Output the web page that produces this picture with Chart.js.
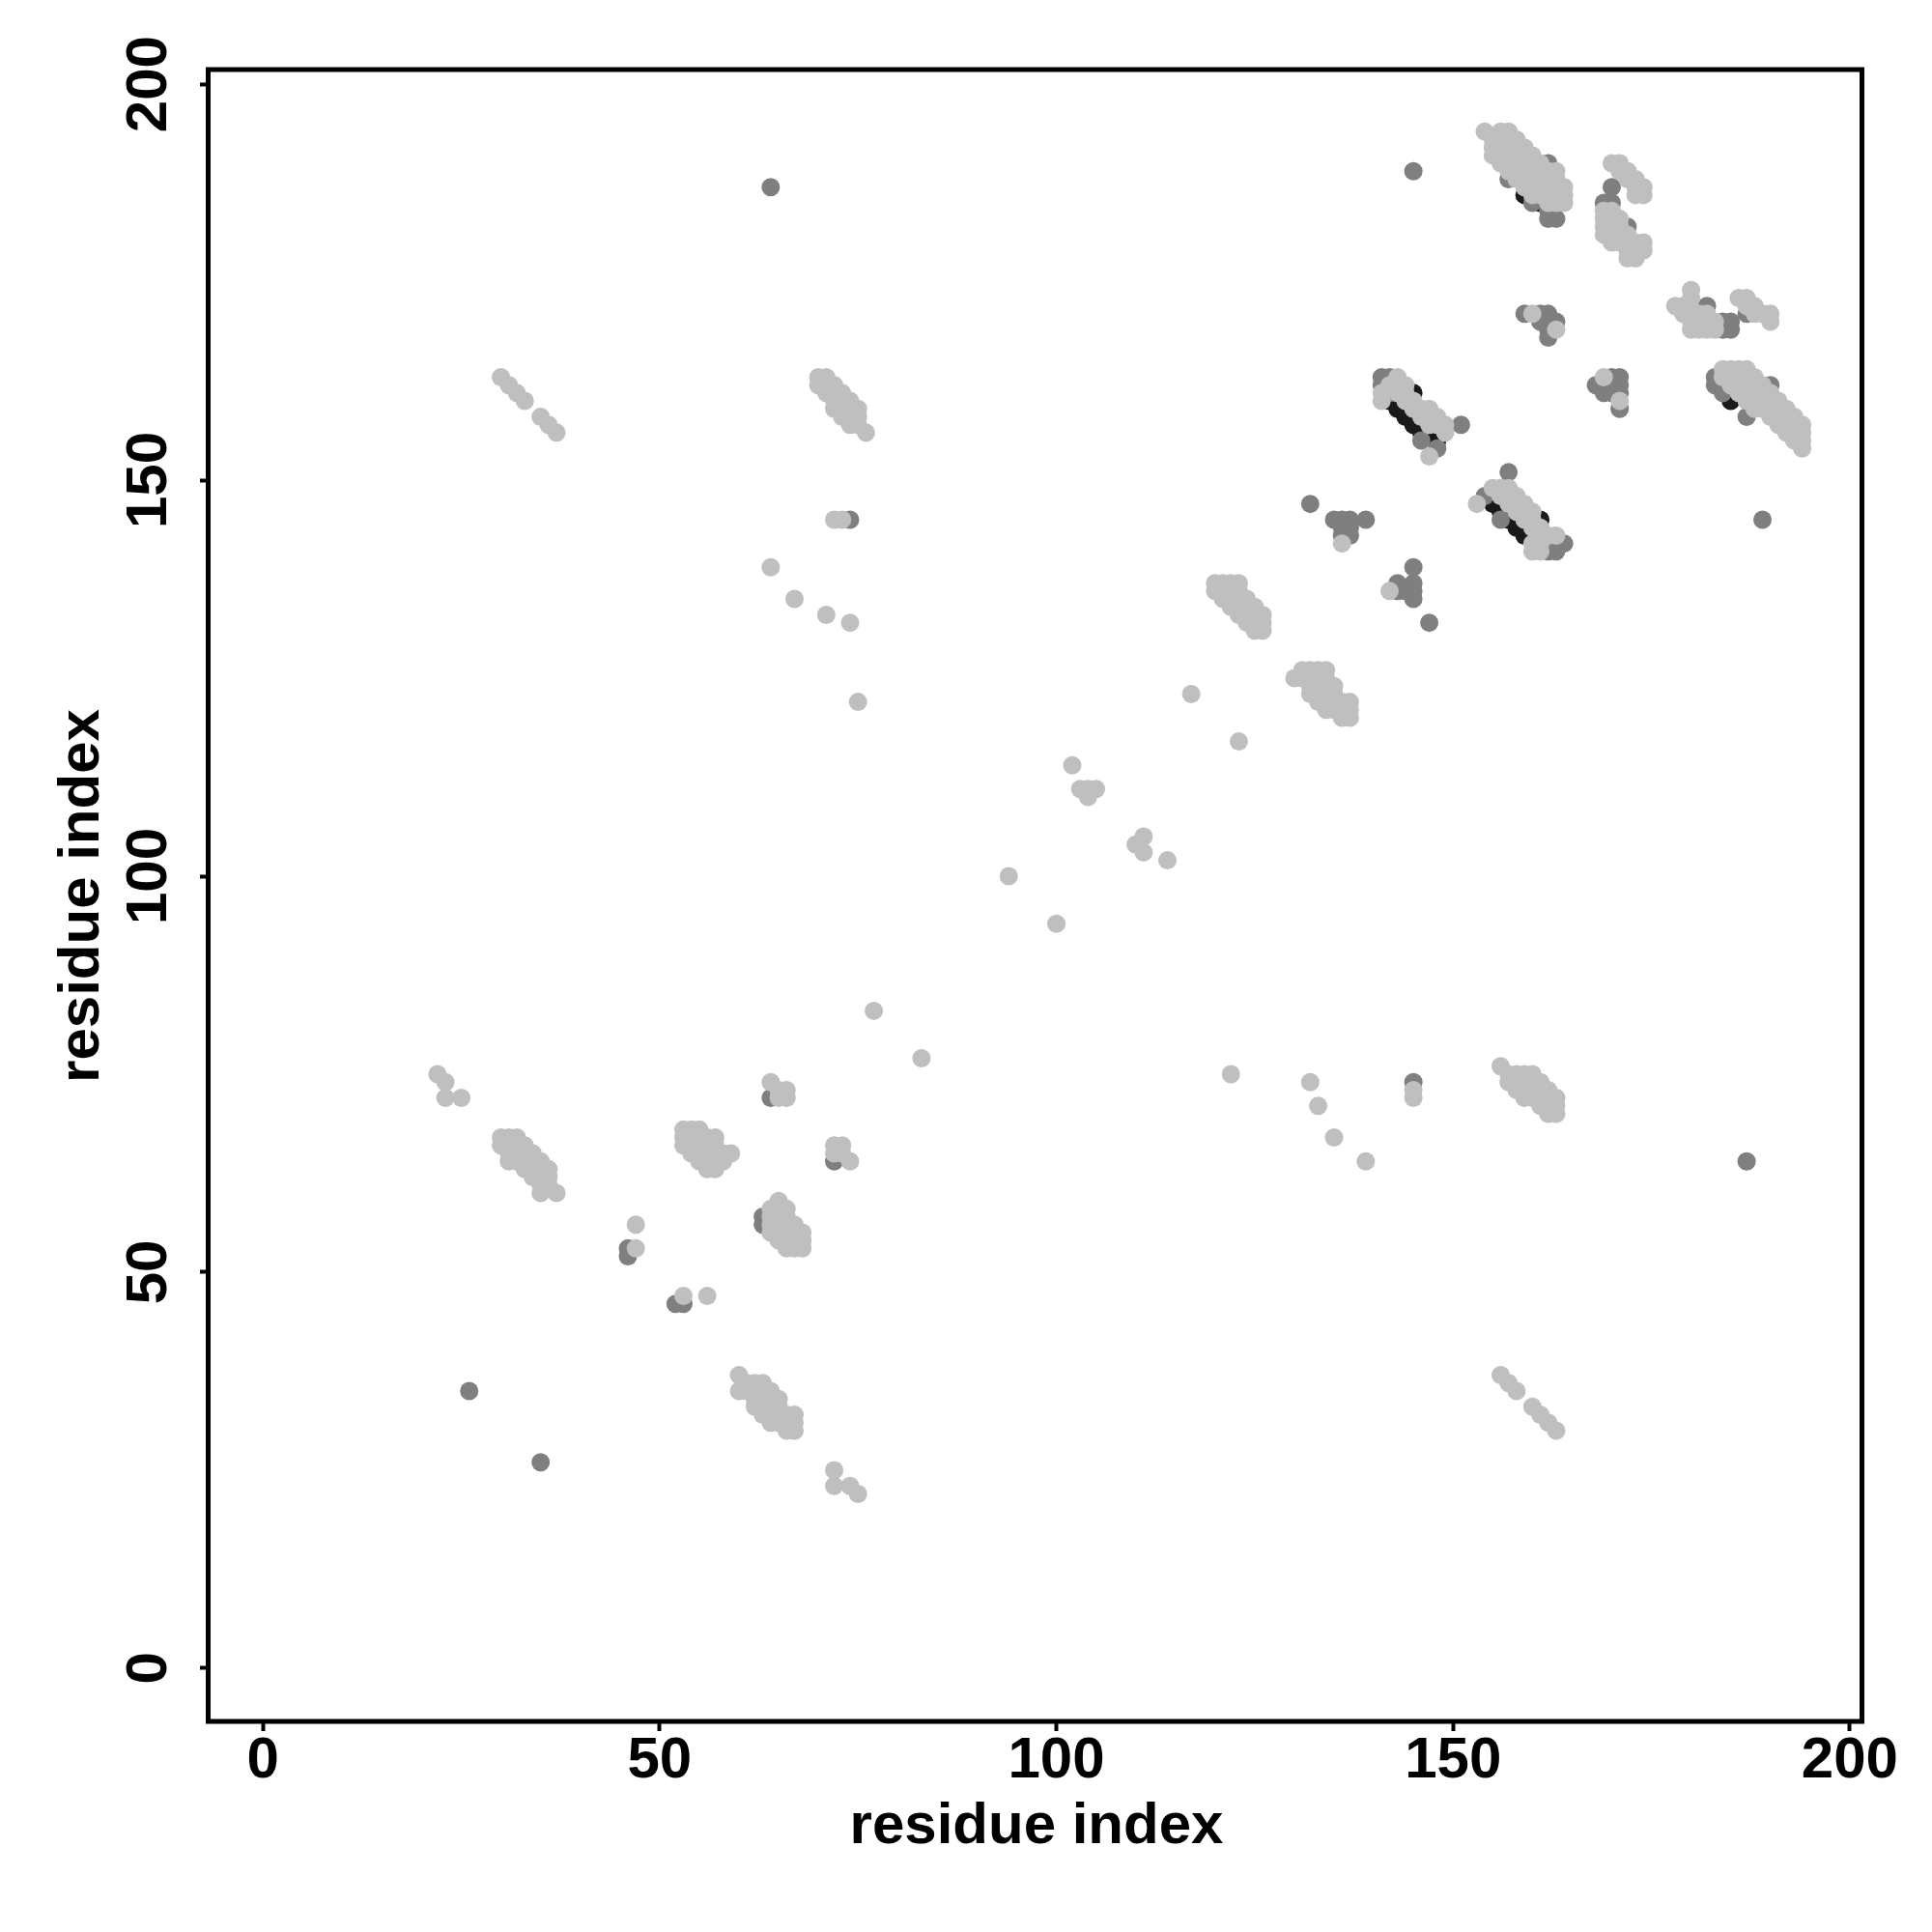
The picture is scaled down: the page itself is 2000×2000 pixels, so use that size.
<!DOCTYPE html>
<html><head><meta charset="utf-8">
<script src="https://cdn.jsdelivr.net/npm/chart.js@4"></script>
<style>html,body{margin:0;padding:0;background:#fff}#wrap{width:2000px;height:2000px}</style>
</head><body><div id="wrap"><canvas id="c" width="2000" height="2000"></canvas></div>
<script>
const tickValues = [0, 50, 100, 150, 200];
const xTitle = 'residue index';
const yTitle = 'residue index';

const lightPoints = [
[154,194],[156,194],[157,194],[155,193],[156,193],[157,193],[158,193],[155,192],[156,192],[157,192],[158,192],[159,192],[155,191],[156,191],[157,191],[158,191],[159,191],[160,191],[156,190],[157,190],[158,190],[159,190],[160,190],[161,190],[157,189],[158,189],[159,189],[160,189],[161,189],[162,189],[163,189],[158,188],[159,188],[160,188],[161,188],[162,188],[163,188],[159,187],[160,187],[161,187],[162,187],[163,187],[164,187],[160,186],[161,186],[162,186],[163,186],[164,186],[162,185],[163,185],[164,185],
[170,190],[171,190],[171,189],[172,189],[172,188],[173,188],[173,187],[174,187],[174,186],[173,186],[169,184],[169,183],[169,182],[169,181],[170,184],[170,183],[170,182],[170,181],[170,180],[171,183],[171,182],[171,181],[171,180],[172,181],[172,180],[172,179],[173,180],[173,179],[173,178],[174,180],[174,179],[172,178],
[160,171],[163,169],
[178,172],[179,172],[180,173],[180,174],[179,171],[180,171],[181,171],[180,170],[181,170],[182,170],[182,171],[183,170],[180,169],[181,169],[182,169],[183,169],[186,173],[187,173],[188,172],[187,172],[188,171],[189,171],[190,171],[190,170],
[169,163],[171,160],
[184,164],[185,164],[186,164],[187,164],[184,163],[185,163],[186,163],[187,163],[188,163],[185,162],[186,162],[187,162],[188,162],[189,162],[186,161],[187,161],[188,161],[189,161],[190,161],[187,160],[188,160],[189,160],[190,160],[191,160],[188,159],[189,159],[190,159],[191,159],[192,159],[190,158],[191,158],[192,158],[193,158],[191,157],[192,157],[193,157],[194,157],[192,156],[193,156],[194,156],[193,155],[194,155],[194,154],
[143,163],[141,161],[141,160],[142,162],[143,162],[143,161],[144,161],[144,160],[145,160],[145,159],[146,159],[147,159],[146,158],[147,158],[148,158],[147,157],[148,157],[149,157],[149,156],[147,153],[144,162],
[153,147],[155,149],[156,149],[157,149],[156,148],[157,148],[158,148],[157,147],[158,147],[159,147],[158,146],[159,146],[160,146],[159,145],[160,145],[160,144],[161,144],[161,143],[162,143],[163,143],[160,142],[161,142],[160,141],[161,141],
[136,142],[142,136],
[70,163],[71,163],[70,162],[71,162],[72,162],[71,161],[72,161],[73,161],[72,160],[73,160],[74,160],[72,159],[73,159],[74,159],[75,159],[73,158],[74,158],[75,158],[74,157],[75,157],[76,156],
[72,145],[73,145],[64,139],[67,135],[71,133],[74,132],[75,122],
[30,163],[31,162],[32,161],[33,160],[35,158],[36,157],[37,156],
[120,137],[121,137],[122,137],[123,137],[120,136],[121,136],[122,136],[123,136],[121,135],[122,135],[123,135],[124,135],[122,134],[123,134],[124,134],[125,134],[123,133],[124,133],[125,133],[126,133],[124,132],[125,132],[126,132],[125,131],[126,131],
[130,125],[131,126],[132,126],[133,126],[134,126],[131,125],[132,125],[133,125],[134,125],[132,124],[133,124],[134,124],[135,124],[132,123],[133,123],[134,123],[135,123],[133,122],[134,122],[135,122],[136,122],[137,122],[134,121],[135,121],[136,121],[137,121],[136,120],[137,120],
[117,123],[123,117],[102,114],[103,111],[104,111],[105,111],[104,110],[111,105],[110,104],[111,103],[114,102],[94,100],[100,94],[77,83],[83,77],
[122,75],[132,74],[133,71],[135,67],[139,64],[145,72],[145,73],
[156,76],[157,75],[158,75],[159,75],[160,75],[157,74],[158,74],[159,74],[160,74],[161,74],[158,73],[159,73],[160,73],[161,73],[162,73],[159,72],[160,72],[161,72],[162,72],[163,72],[161,71],[162,71],[163,71],[162,70],[163,70],
[156,37],[157,36],[158,35],[160,33],[161,32],[162,31],[163,30],
[22,75],[23,74],[23,72],[25,72],
[30,67],[31,67],[32,67],[30,66],[31,66],[32,66],[33,66],[31,65],[32,65],[33,65],[34,65],[31,64],[32,64],[33,64],[34,64],[35,64],[33,63],[34,63],[35,63],[36,63],[34,62],[35,62],[36,62],[35,61],[36,61],[35,60],[37,60],
[64,74],[65,73],[66,73],[65,72],[66,72],
[53,68],[54,68],[55,68],[56,67],[57,67],[53,67],[54,67],[55,67],[53,66],[54,66],[55,66],[56,66],[57,66],[54,65],[55,65],[56,65],[57,65],[58,65],[59,65],[55,64],[56,64],[57,64],[58,64],[56,63],[57,63],
[72,66],[73,66],[72,65],[73,65],[74,64],
[65,59],[64,58],[65,58],[66,58],[64,57],[65,57],[66,57],[64,56],[65,56],[66,56],[67,56],[64,55],[65,55],[66,55],[67,55],[68,55],[65,54],[66,54],[67,54],[68,54],[66,53],[67,53],[68,53],
[47,56],[47,53],[53,47],[56,47],
[60,37],[60,35],[61,36],[62,36],[63,36],[61,35],[62,35],[63,35],[64,35],[62,34],[63,34],[64,34],[65,34],[62,33],[63,33],[64,33],[65,33],[63,32],[64,32],[65,32],[66,32],[67,32],[64,31],[65,31],[66,31],[67,31],[66,30],[67,30],
[72,25],[72,23],[74,23],[75,22]
];

const mediumPoints = [
[162,190],[157,188],[160,185],[162,184],[162,183],[163,183],
[170,187],[169,185],[170,185],[172,182],
[159,171],[161,171],[162,171],[161,170],[162,170],[163,170],[162,169],[162,168],
[182,172],[184,170],[185,170],[184,169],[185,169],[187,171],
[168,162],[170,163],[171,163],[170,162],[171,162],[169,161],[170,161],[171,161],[171,159],
[183,163],[183,162],[190,162],[184,161],[187,158],
[141,163],[142,163],[141,162],[142,161],[151,157],[148,154],[146,155],
[157,151],[154,148],[162,142],[163,142],[164,142],[162,141],[163,141],[156,145],
[132,147],[135,145],[136,145],[137,145],[139,145],[136,144],[137,144],[136,143],[137,143],
[145,139],[143,137],[143,136],[145,137],[145,136],[145,135],[147,132],[144,136],
[145,189],[64,187],[189,145],[26,35],[35,26],[187,64],[145,74],
[74,145],[64,72],[72,64],[63,57],[63,56],[46,53],[46,52],[52,46],[53,46]
];

const darkPoints = [
[159,186],[161,185],
[184,162],[185,160],
[145,161],[142,160],[143,159],[144,158],[145,157],[146,156],[147,156],[148,155],
[155,147],[156,146],[157,145],[158,144],[159,143],[161,145]
];

const toXY = a => a.map(p => ({x: p[0], y: p[1]}));
const FONT = 'bold 60px "Liberation Sans", Arial, sans-serif';

const decor = {
  id: 'decor',
  afterDraw(chart) {
    const ctx = chart.ctx, a = chart.chartArea;
    const xs = chart.scales.x, ys = chart.scales.y;
    ctx.save();
    ctx.strokeStyle = '#000';
    ctx.lineWidth = 5;
    ctx.strokeRect(a.left - 1.5, a.top - 1, a.right - a.left, a.bottom - a.top + 1);
    ctx.fillStyle = '#000';
    ctx.font = FONT;
    ctx.textAlign = 'center';
    ctx.textBaseline = 'alphabetic';
    tickValues.forEach(v => {
      ctx.fillText(String(v), xs.getPixelForValue(v), 1840);
    });
    tickValues.forEach(v => {
      ctx.save();
      ctx.translate(172, ys.getPixelForValue(v));
      ctx.rotate(-Math.PI / 2);
      ctx.fillText(String(v), 0, 0);
      ctx.restore();
    });
    ctx.fillText(xTitle, (a.left + a.right) / 2, 1908);
    ctx.save();
    ctx.translate(102, (a.top + a.bottom) / 2);
    ctx.rotate(-Math.PI / 2);
    ctx.fillText(yTitle, 0, 0);
    ctx.restore();
    ctx.restore();
  }
};

const axisCommon = (fitProp, fitVal) => ({
  type: 'linear',
  min: -6.72,
  max: 201.72,
  afterBuildTicks: s => { s.ticks = tickValues.map(v => ({value: v})); },
  afterFit: s => { s[fitProp] = fitVal; },
  grid: {drawOnChartArea: false, drawTicks: true, tickLength: 10, tickWidth: 4, tickColor: '#000'},
  border: {display: false},
  ticks: {display: false}
});

const ds = (pts, color) => ({
  data: toXY(pts),
  backgroundColor: color,
  borderWidth: 0,
  pointRadius: 9.5,
  pointHoverRadius: 9.5,
  clip: false
});

new Chart(document.getElementById('c').getContext('2d'), {
  type: 'scatter',
  data: {datasets: [ds(lightPoints, '#bfbfbf'), ds(mediumPoints, '#7f7f7f'), ds(darkPoints, '#1a1a1a')]},
  options: {
    responsive: false,
    animation: false,
    devicePixelRatio: 1,
    layout: {padding: {top: 73, right: 71, left: 0, bottom: 0}},
    plugins: {legend: {display: false}, tooltip: {enabled: false}},
    scales: {
      x: axisCommon('height', 218),
      y: axisCommon('width', 217)
    }
  },
  plugins: [decor]
});
</script></body></html>
